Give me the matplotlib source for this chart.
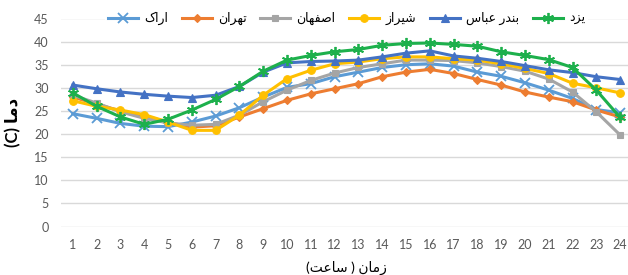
import matplotlib
matplotlib.use("Agg")
import matplotlib.pyplot as plt

hours = list(range(1, 25))

# Persian labels written in visual (presentation-form) order
names = [
    "\uFB8E\uFE8D\uFEAD\uFE8D",                              # اراک
    "\uFEE5\uFE8D\uFEAE\uFEEC\uFE97",                        # تهران
    "\uFEE5\uFE8E\uFEEC\uFED4\uFEBB\uFE8D",                  # اصفهان
    "\uFEAF\uFE8D\uFEAE\uFEF4\uFEB7",                        # شیراز
    "\uFEB1\uFE8E\uFE92\uFECB \uFEAD\uFEAA\uFEE8\uFE91",     # بندر عباس
    "\uFEA9\uFEB0\uFEF3",                                    # یزد
]

arak = [24.4, 23.4, 22.3, 21.7, 21.6, 22.6, 23.9, 25.7, 28.0, 30.1, 30.9, 32.4,
        33.4, 34.4, 35.0, 35.2, 34.7, 33.4, 32.5, 31.1, 29.5, 27.7, 25.3, 24.6]
tehran = [28.0, 26.5, 25.0, 24.0, 22.5, 21.5, 21.8, 23.7, 25.5, 27.3, 28.7, 29.8,
          30.9, 32.4, 33.4, 34.0, 33.1, 31.8, 30.6, 29.1, 28.0, 27.0, 25.2, 23.7]
isfahan = [28.4, 26.7, 24.8, 23.4, 22.4, 21.9, 22.1, 24.1, 27.0, 29.5, 31.6, 33.2,
           34.4, 35.2, 36.0, 36.0, 35.9, 35.4, 34.6, 33.6, 31.9, 29.1, 24.8, 19.8]
shiraz = [27.2, 26.0, 25.2, 24.2, 22.6, 20.8, 20.8, 24.1, 28.4, 32.0, 33.8, 35.2,
          35.6, 36.3, 36.7, 36.7, 36.3, 36.0, 35.2, 34.2, 33.1, 31.0, 30.0, 28.9]
bandar = [30.6, 29.8, 29.1, 28.6, 28.2, 27.9, 28.4, 30.3, 33.4, 35.4, 35.7, 35.8,
          36.0, 36.7, 37.5, 38.0, 36.9, 36.4, 35.7, 34.8, 33.9, 33.3, 32.4, 31.8]
yazd = [28.9, 26.0, 23.7, 22.1, 23.2, 25.2, 27.5, 30.3, 33.6, 36.0, 37.0, 37.8,
        38.3, 39.2, 39.6, 39.7, 39.4, 39.0, 37.8, 37.0, 36.1, 34.4, 29.5, 23.6]

series = [arak, tehran, isfahan, shiraz, bandar, yazd]
colors = ["#5B9BD5", "#ED7D31", "#A5A5A5", "#FFC000", "#4472C4", "#1DB04C"]
markers = ["x", "D", "s", "o", "^", (6, 2, 0)]
msizes = [7, 4.5, 5, 5.5, 6, 8]

fam = ["Lato", "DejaVu Sans"]
plt.rcParams["font.family"] = fam

fig = plt.figure(figsize=(6.28, 2.75), dpi=100)
ax = fig.add_axes([61 / 628, 48.5 / 275, 571 / 628, 208 / 275])

for vals, name, c, m, ms in zip(series, names, colors, markers, msizes):
    ax.plot(hours, vals, color=c, lw=2.2, marker=m, markersize=ms,
            markeredgewidth=1.3 if m in ("x", (6, 2, 0)) else 0.8,
            markeredgecolor=c, markerfacecolor=c, label=name)

ax.set_xlim(0.5, 24.5)
ax.set_ylim(0, 45)
ax.set_xticks(hours)
ax.set_yticks(range(0, 46, 5))
ax.grid(axis="y", color="#D9D9D9", lw=1)
ax.set_axisbelow(True)
for s in ax.spines.values():
    s.set_visible(False)
ax.tick_params(length=0, labelsize=9, colors="#595959")
ax.tick_params(axis="x", pad=9)
ax.tick_params(axis="y", pad=9)

ax.set_xlabel("(\uFE96\uFECB\uFE8E\uFEB3 ) \uFEE5\uFE8E\uFEE3\uFEAF",
              fontsize=10, color="black")
ax.xaxis.set_label_coords(0.5, -0.165)
ax.set_ylabel("(C) \uFE8E\uFEE3\uFEA9", fontsize=12, color="black",
              fontweight="bold")
ax.yaxis.set_label_coords(-0.07, 0.5)

leg = ax.legend(loc="center", bbox_to_anchor=(0.5, 1.0), ncol=6, fontsize=9,
                frameon=True, facecolor="white", edgecolor="none", framealpha=1,
                handlelength=2.4, columnspacing=1.1, handletextpad=0.5,
                borderpad=0.2, fancybox=False)

fig.savefig("out.png", dpi=100)
